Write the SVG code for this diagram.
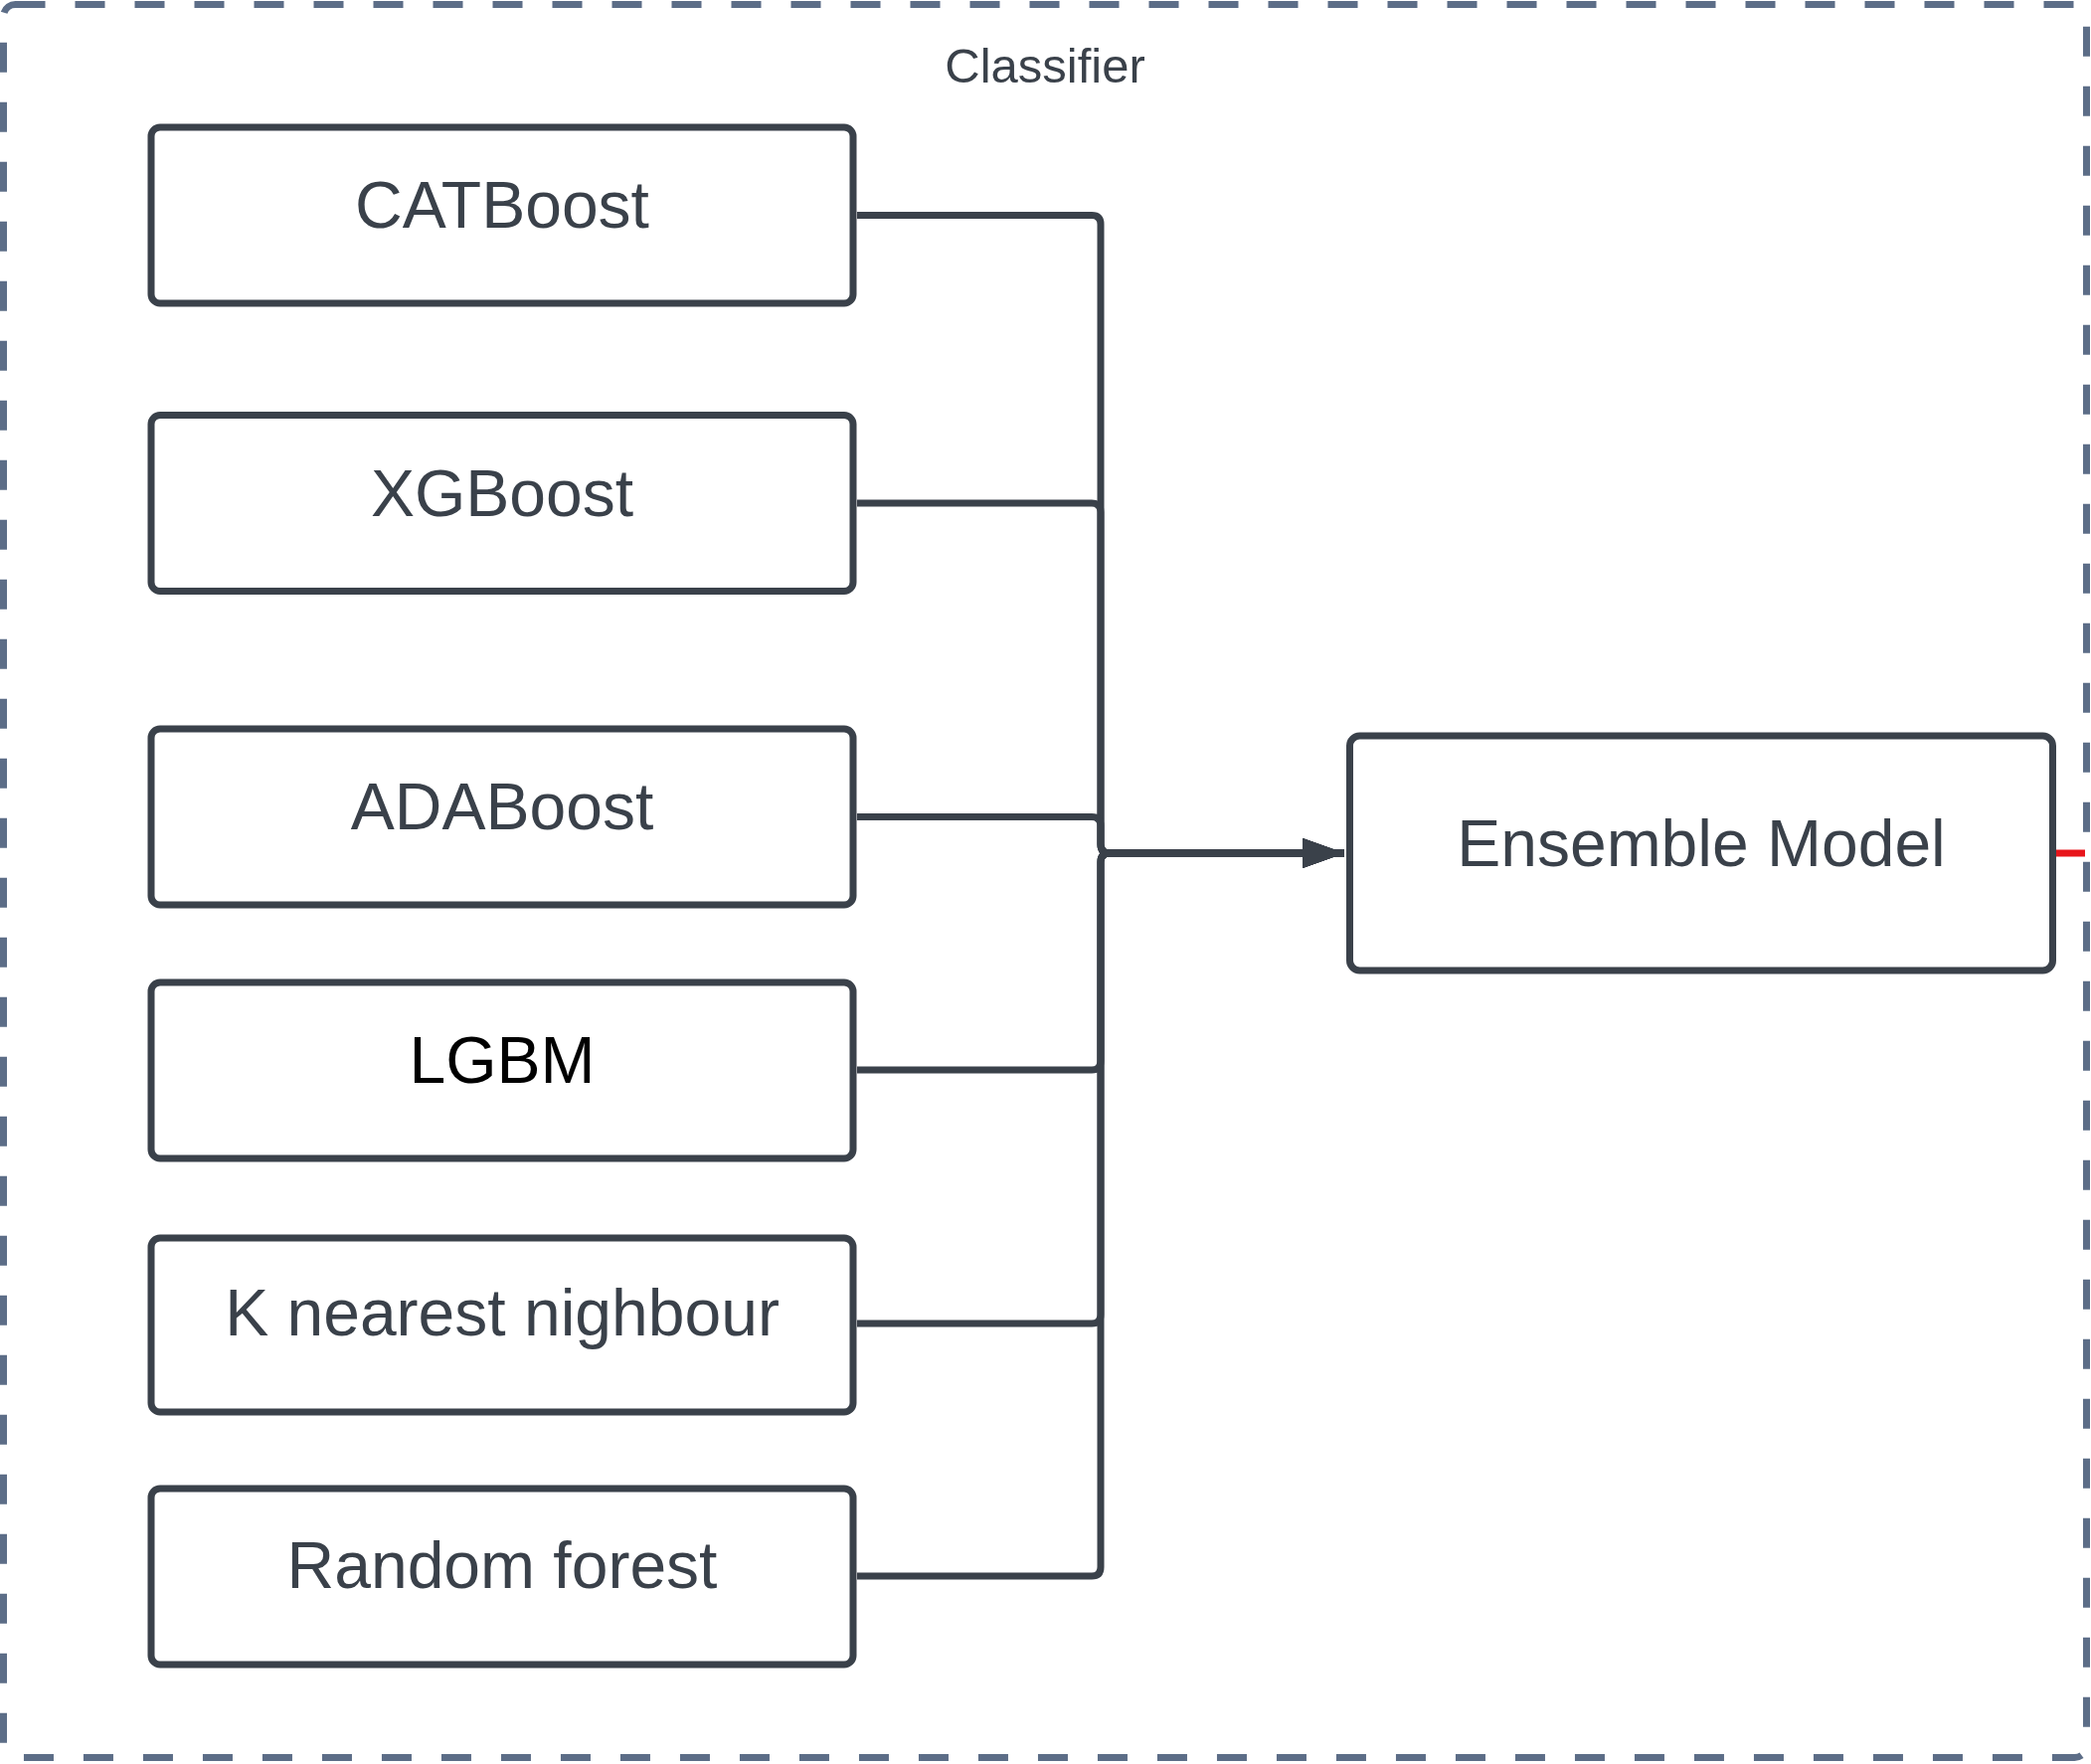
<svg xmlns="http://www.w3.org/2000/svg" width="2103" height="1774" viewBox="0 0 2103 1774">
<style>
.box{fill:#ffffff;stroke:#3a414a;stroke-width:7}
.lbl{font-family:"Liberation Sans",Arial,sans-serif;font-size:66px;fill:#3a414a;text-anchor:middle}
.con{fill:none;stroke:#3a414a;stroke-width:7;stroke-linejoin:round}
</style>
<defs>
<marker id="arr" markerUnits="userSpaceOnUse" markerWidth="46" markerHeight="34" refX="42" refY="15" orient="auto">
<path d="M0,0 L42,15 L0,30 Z" fill="#3a414a"/>
</marker>
</defs>
<rect width="2103" height="1774" fill="#ffffff"/>
<g id="classifier">
<rect x="3.5" y="4.5" width="2095" height="1763" rx="12" fill="none" stroke="#5c6d87" stroke-width="7" stroke-dasharray="30 30"/>
<text x="1051" y="83" style="font-family:'Liberation Sans',Arial,sans-serif;font-size:49px;fill:#3a414a;text-anchor:middle">Classifier</text>
</g>
<g id="connectors">
<path class="con" d="M862,216.5 H1098 Q1107,216.5 1107,225.5 V849 Q1107,858 1116,858 H1352" marker-end="url(#arr)"/>
<path class="con" d="M862,506 H1098 Q1107,506 1107,515 V849 Q1107,858 1116,858 H1352" marker-end="url(#arr)"/>
<path class="con" d="M862,821.5 H1098 Q1107,821.5 1107,830.5 V849 Q1107,858 1116,858 H1352" marker-end="url(#arr)"/>
<path class="con" d="M862,1076 H1098 Q1107,1076 1107,1067 V867 Q1107,858 1116,858 H1352" marker-end="url(#arr)"/>
<path class="con" d="M862,1331 H1098 Q1107,1331 1107,1322 V867 Q1107,858 1116,858 H1352" marker-end="url(#arr)"/>
<path class="con" d="M862,1585 H1098 Q1107,1585 1107,1576 V867 Q1107,858 1116,858 H1352" marker-end="url(#arr)"/>
<path d="M2068,858 H2097" fill="none" stroke="#e8151b" stroke-width="7"/>
</g>
<g id="catboost">
<rect class="box" x="152" y="128" width="706" height="177" rx="9"/>
<text class="lbl" x="505" y="229">CATBoost</text>
</g>
<g id="xgboost">
<rect class="box" x="152" y="417.5" width="706" height="177" rx="9"/>
<text class="lbl" x="505" y="518.5">XGBoost</text>
</g>
<g id="adaboost">
<rect class="box" x="152" y="733" width="706" height="177" rx="9"/>
<text class="lbl" x="505" y="834">ADABoost</text>
</g>
<g id="lgbm">
<rect class="box" x="152" y="988" width="706" height="177" rx="9"/>
<text class="lbl" x="505" y="1089" style="fill:#000000">LGBM</text>
</g>
<g id="knn">
<rect class="box" x="152" y="1245" width="706" height="175" rx="9"/>
<text class="lbl" x="505" y="1343">K nearest nighbour</text>
</g>
<g id="randomforest">
<rect class="box" x="152" y="1497" width="706" height="177" rx="9"/>
<text class="lbl" x="505" y="1597">Random forest</text>
</g>
<g id="ensemble">
<rect class="box" x="1357.5" y="740" width="707" height="236" rx="10"/>
<text class="lbl" x="1711" y="871">Ensemble Model</text>
</g>
</svg>
